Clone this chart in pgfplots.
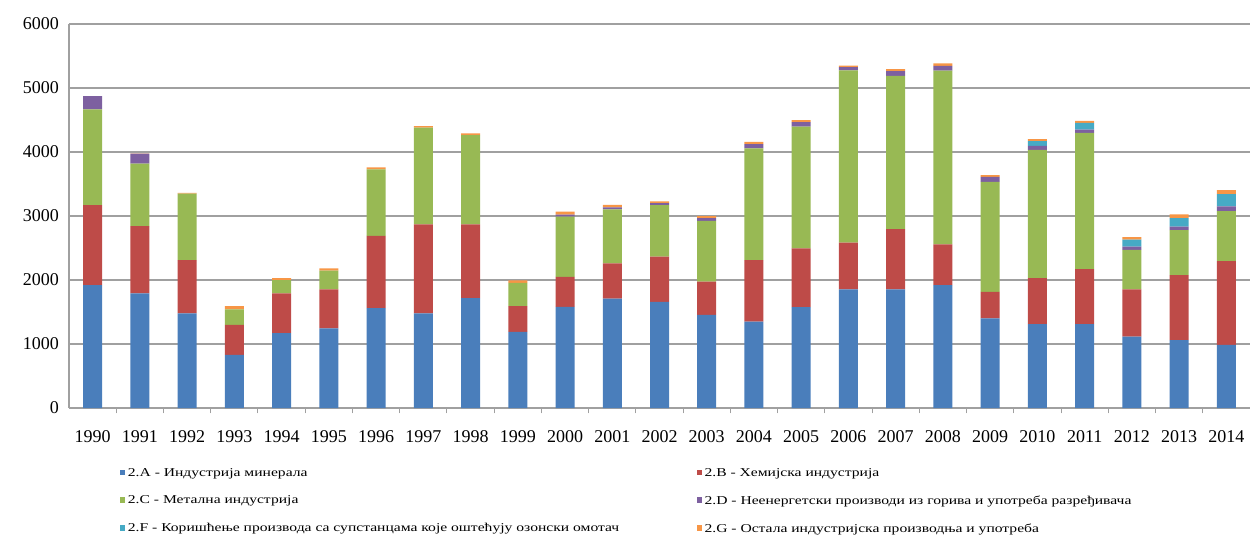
\documentclass[border=0pt]{standalone}
\usepackage{pgfplots}
\usepackage{pgfplotstable}
\usepackage{fontspec}
\setmainfont{Liberation Serif}
\newfontfamily\legendfont[FakeStretch=1.3]{Liberation Serif}
\pgfplotsset{compat=1.18}

\definecolor{cA}{HTML}{4A7EBB}
\definecolor{cB}{HTML}{BE4B48}
\definecolor{cC}{HTML}{98B954}
\definecolor{cD}{HTML}{7D60A0}
\definecolor{cF}{HTML}{46AAC5}
\definecolor{cG}{HTML}{F79646}
\definecolor{gridc}{HTML}{A0A0A0}

% Emissions by IPPU subcategory, 1990--2014
\pgfplotstableread{
x year A B C D F G
0 1990 1920 1250 1495 210 0 0
1 1991 1790 1050 980 155 0 5
2 1992 1480 830 1040 0 0 10
3 1993 830 470 240 0 0 50
4 1994 1170 620 210 0 0 30
5 1995 1245 610 290 0 0 35
6 1996 1560 1130 1040 0 0 30
7 1997 1480 1390 1510 0 0 25
8 1998 1715 1155 1395 0 0 25
9 1999 1190 400 365 0 0 40
10 2000 1580 470 940 30 0 50
11 2001 1710 550 845 30 0 40
12 2002 1660 705 805 30 0 30
13 2003 1455 520 950 40 0 35
14 2004 1350 960 1745 70 0 35
15 2005 1575 920 1900 70 0 35
16 2006 1855 730 2690 50 0 25
17 2007 1855 940 2395 75 0 30
18 2008 1920 635 2715 75 0 40
19 2009 1400 415 1720 75 0 30
20 2010 1310 720 2005 60 75 30
21 2011 1310 860 2130 50 105 30
22 2012 1115 740 615 50 110 40
23 2013 1060 1015 705 55 130 60
24 2014 985 1310 780 75 190 65
}\data

\begin{document}
\begin{tikzpicture}
\begin{axis}[
  name=main,
  scale only axis,
  width=885.75pt, height=288pt,
  ybar stacked, bar width=14.25pt,
  xmin=-0.5, xmax=24.5, ymin=0, ymax=6000,
  xtick=data,
  xticklabels from table={\data}{year},
  minor x tick num=1,
  major x tick style={draw=none},
  minor x tick style={gridc, line width=0.8pt},
  minor tick length=4pt,
  xtick align=outside,
  ytick={0,1000,...,6000},
  ytick style={draw=none},
  ymajorgrids,
  grid style={gridc, line width=1.1pt},
  axis x line*=bottom, axis y line*=left,
  axis line style={gridc, line width=1pt, -},
  tick label style={font=\fontsize{13.5}{15}\selectfont, text=black},
  /pgf/number format/assume math mode=true,
  /pgf/number format/1000 sep={},
  yticklabel style={xshift=-4pt},
  xticklabel style={yshift=-9pt},
  legend columns=2,
  legend cell align=left,
  legend style={
    at={(axis description cs:0,0)}, anchor=north west,
    xshift=38pt, yshift=-43pt,
    draw=none, fill=none, inner sep=0pt,
    font=\legendfont\fontsize{9}{10.5}\selectfont,
    row sep=9pt,
    /tikz/every odd column/.append style={column sep=0pt},
    /tikz/every even column/.append style={column sep=56pt},
  },
  legend image code/.code={\fill[#1] (0pt,-1.6pt) rectangle (4pt,2.6pt);},
  every axis plot/.append style={draw=none},
]
\addplot[fill=cA] table[x=x, y=A] {\data};
\addplot[fill=cB] table[x=x, y=B] {\data};
\addplot[fill=cC] table[x=x, y=C] {\data};
\addplot[fill=cD] table[x=x, y=D] {\data};
\addplot[fill=cF] table[x=x, y=F] {\data};
\addplot[fill=cG] table[x=x, y=G] {\data};
\legend{2.A - Индустрија минерала,
        2.B - Хемијска индустрија,
        2.C - Метална индустрија,
        2.D - Неенергетски производи из горива и употреба разређивача,
        2.F - Коришћење производа са супстанцама које оштећују озонски омотач,
        2.G - Остала индустријска производња и употреба}
\end{axis}
\path (main.south west) ++(-51.75pt,-98.25pt) rectangle ++(939pt,404.25pt);
\end{tikzpicture}
\end{document}
